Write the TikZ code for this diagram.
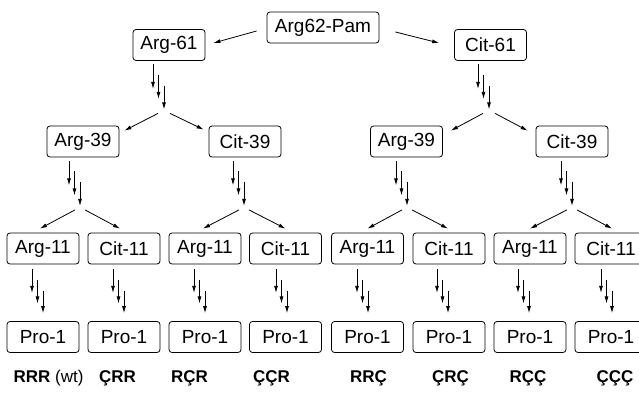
\documentclass[tikz,border=0pt]{standalone}
\usepackage{fontspec}
\setmainfont{Liberation Sans}
\usetikzlibrary{arrows.meta,calc}
\tikzset{
  box/.style={draw, rounded corners=3pt, minimum width=72pt, minimum height=31pt,
    inner sep=0pt, line width=0.8pt, font=\fontsize{19}{21}\selectfont},
  arr/.style={-{Latex[length=7pt,width=4pt]}, line width=0.8pt},
  lab/.style={font=\fontsize{17}{19}\selectfont, inner sep=0pt, anchor=base}
}
\newcommand\tripar[3]{% #1 node, #2 x offset, #3 split name
  \draw[arr] ([shift={(#2-11,3.5)}]#1.south) -- ++(0,24.5);
  \draw[arr] ([shift={(#2-5.5,14)}]#1.south) -- ++(0,24);
  \draw[arr] ([shift={(#2,25)}]#1.south) -- ++(0,23.5);
  \coordinate (#3) at ([shift={(#2,51.5)}]#1.south);
}
\begin{document}
\begin{tikzpicture}[x=1pt,y=-1pt]
\useasboundingbox (0,0) rectangle (639,393);
% nodes
\node[box, minimum width=112pt] (pam) at (323,27.5) {Arg62-Pam};
\node[box] (a61) at (169,45) {Arg-61};
\node[box] (c61) at (490.5,45) {Cit-61};
\node[box] (a39a) at (83,141.5) {Arg-39};
\node[box] (c39a) at (245,141.5) {Cit-39};
\node[box] (a39b) at (406.5,141.5) {Arg-39};
\node[box] (c39b) at (572,141.5) {Cit-39};
\foreach \x/\n/\t in {43/1/Arg-11,124/2/Cit-11,205/3/Arg-11,285.5/4/Cit-11,367.5/5/Arg-11,449/6/Cit-11,530/7/Arg-11,611/8/Cit-11}{
  \node[box] (e\n) at (\x,248.5) {\t};
  \node[box] (p\n) at (\x,337) {Pro-1};
}
% top arrows
\draw[arr] ([shift={(-10,3.5)}]pam.west) -- ([shift={(8,-2)}]a61.east);
\draw[arr] ([shift={(16,4.5)}]pam.east) -- ([shift={(-15,-2)}]c61.west);
% triple arrows level 1
\tripar{a61}{-5}{s61a}
\tripar{c61}{-1.5}{s61c}
\draw[arr] ([shift={(-6,1)}]s61a) -- ([shift={(5,5)}]a39a.north east);
\draw[arr] ([shift={(6,1)}]s61a) -- ([shift={(-5,4)}]c39a.north west);
\draw[arr] ([shift={(-6,1)}]s61c) -- ([shift={(8,5)}]a39b.north east);
\draw[arr] ([shift={(6,1)}]s61c) -- ([shift={(-8,5)}]c39b.north west);
% level 2
\tripar{a39a}{-3}{s1}
\tripar{c39a}{-1}{s2}
\tripar{a39b}{0.5}{s3}
\tripar{c39b}{0}{s4}
\draw[arr] ([shift={(-5,1)}]s1) -- ([shift={(-3,-4)}]e1.north);
\draw[arr] ([shift={(5,1)}]s1) -- ([shift={(-4,-4)}]e2.north);
\draw[arr] ([shift={(-5,1)}]s2) -- ([shift={(-2,-4)}]e3.north);
\draw[arr] ([shift={(5,1)}]s2) -- ([shift={(0,-4)}]e4.north);
\draw[arr] ([shift={(-5,1)}]s3) -- ([shift={(0,-4)}]e5.north);
\draw[arr] ([shift={(5,1)}]s3) -- ([shift={(-1,-4)}]e6.north);
\draw[arr] ([shift={(-5,1)}]s4) -- ([shift={(0,-4)}]e7.north);
\draw[arr] ([shift={(5,1)}]s4) -- ([shift={(1,-4)}]e8.north);
% level 3 -> 4
\foreach \n/\o in {1/0,2/0,3/0,4/1.5,5/0.5,6/-1,7/-1,8/1}{
  \draw[arr] ([shift={(\o-11,4.5)}]e\n.south) -- ++(0,24);
  \draw[arr] ([shift={(\o-5.5,15.5)}]e\n.south) -- ++(0,23.5);
  \draw[arr] ([shift={(\o,26.5)}]e\n.south) -- ([shift={(\o,-8)}]p\n.north);
}
% labels
\node[lab] (l1) at (48.5,382) {\bfseries RRR \mdseries(wt)};
\node[lab] (l2) at (117.5,382) {\bfseries ÇRR};
\node[lab] (l3) at (189.5,382) {\bfseries RÇR};
\node[lab] (l4) at (271.5,382) {\bfseries ÇÇR};
\node[lab] (l5) at (368.5,382) {\bfseries RRÇ};
\node[lab] (l6) at (450.5,382) {\bfseries ÇRÇ};
\node[lab] (l7) at (528,382) {\bfseries RÇÇ};
\node[lab] (l8) at (615,382) {\bfseries ÇÇÇ};
\end{tikzpicture}
\end{document}
